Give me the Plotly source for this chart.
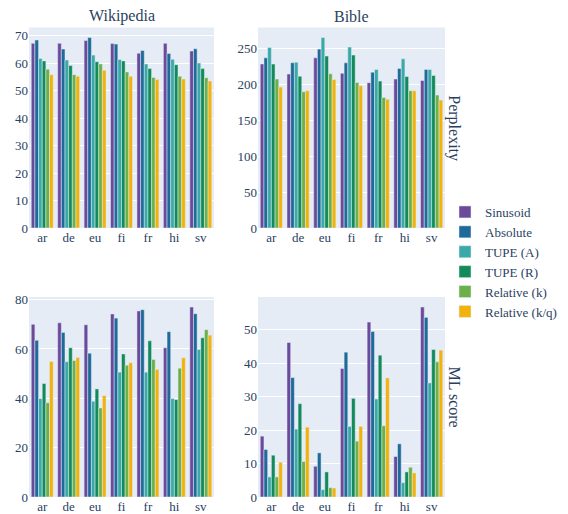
import plotly.graph_objects as go

languages = ["ar", "de", "eu", "fi", "fr", "hi", "sv"]
series_names = ["Sinusoid", "Absolute", "TUPE (A)", "TUPE (R)", "Relative (k)", "Relative (k/q)"]
colors = ["#6b4a9b", "#1f6a98", "#3ba9a8", "#128a5a", "#6cb04a", "#f1b20c"]

# Wikipedia perplexity
wiki_ppl_sinusoid = [67.2, 67.2, 68.2, 67.1, 63.6, 67.2, 64.4]
wiki_ppl_absolute = [68.4, 65.1, 69.3, 66.9, 64.6, 63.5, 65.2]
wiki_ppl_tupe_a = [61.7, 61.1, 62.9, 61.3, 59.7, 61.4, 60.0]
wiki_ppl_tupe_r = [60.8, 59.1, 60.5, 60.8, 58.0, 59.4, 58.0]
wiki_ppl_rel_k = [57.8, 55.8, 59.7, 56.8, 54.8, 55.2, 54.7]
wiki_ppl_rel_kq = [55.8, 55.2, 57.4, 55.2, 54.0, 54.2, 53.5]

# Bible perplexity
bible_ppl_sinusoid = [228, 214, 236.5, 215, 202, 207, 205]
bible_ppl_absolute = [236.5, 229.6, 248.6, 229.5, 216.6, 221.7, 220.3]
bible_ppl_tupe_a = [250.8, 230.5, 264.7, 251.4, 220.3, 235.1, 220.3]
bible_ppl_tupe_r = [227.8, 211, 238.9, 240.3, 204.2, 210.6, 211.9]
bible_ppl_rel_k = [207, 189.3, 214.3, 202.2, 181.4, 190.7, 184.7]
bible_ppl_rel_kq = [195.8, 190.7, 206.4, 197.6, 179, 190.7, 177.8]

# Wikipedia ML score
wiki_ml_sinusoid = [70.0, 70.6, 69.8, 74.2, 75.4, 60.5, 77.0]
wiki_ml_absolute = [63.5, 66.7, 58.3, 72.5, 75.9, 67.0, 74.3]
wiki_ml_tupe_a = [39.9, 54.8, 38.8, 50.6, 50.6, 39.9, 59.8]
wiki_ml_tupe_r = [46.0, 60.5, 43.8, 58.0, 63.3, 39.5, 64.5]
wiki_ml_rel_k = [38.2, 55.3, 36.1, 53.4, 55.7, 52.2, 67.8]
wiki_ml_rel_kq = [54.9, 56.5, 41.1, 54.4, 51.7, 56.4, 65.6]

# Bible ML score
bible_ml_sinusoid = [18.2, 46.2, 9.2, 38.4, 52.3, 12.1, 56.8]
bible_ml_absolute = [14.2, 35.7, 13.2, 43.3, 49.5, 15.9, 53.7]
bible_ml_tupe_a = [6.0, 20.3, 2.2, 21.1, 29.3, 4.3, 34.1]
bible_ml_tupe_r = [12.5, 27.9, 7.5, 29.5, 42.4, 7.5, 44.1]
bible_ml_rel_k = [6.0, 10.6, 2.8, 16.7, 21.3, 8.9, 40.4]
bible_ml_rel_kq = [10.4, 20.9, 2.7, 21.1, 35.6, 7.2, 43.9]

panels = [
    ("x", "y", [wiki_ppl_sinusoid, wiki_ppl_absolute, wiki_ppl_tupe_a, wiki_ppl_tupe_r, wiki_ppl_rel_k, wiki_ppl_rel_kq]),
    ("x2", "y2", [bible_ppl_sinusoid, bible_ppl_absolute, bible_ppl_tupe_a, bible_ppl_tupe_r, bible_ppl_rel_k, bible_ppl_rel_kq]),
    ("x3", "y3", [wiki_ml_sinusoid, wiki_ml_absolute, wiki_ml_tupe_a, wiki_ml_tupe_r, wiki_ml_rel_k, wiki_ml_rel_kq]),
    ("x4", "y4", [bible_ml_sinusoid, bible_ml_absolute, bible_ml_tupe_a, bible_ml_tupe_r, bible_ml_rel_k, bible_ml_rel_kq]),
]

fig = go.Figure()
for p, (xa, ya, data) in enumerate(panels):
    for i, name in enumerate(series_names):
        fig.add_trace(go.Bar(
            x=languages, y=data[i], name=name, xaxis=xa, yaxis=ya,
            marker=dict(color=colors[i], line=dict(color="#E5ECF6", width=0.5)),
            legendgroup=name, showlegend=(p == 0),
        ))

# figure is drawn with an 8px page margin; work in figure pixel coordinates
W, H = 560, 506
def px(v): return v / W
def py(v): return 1 - v / H

font_family = "Liberation Serif"
fcolor = "#2a3f5f"

xdom_l = [px(21), px(206)]
xdom_r = [px(250), px(437)]
ydom_t = [py(220), py(19.5)]
ydom_b = [py(489), py(289)]

def xax(dom, anchor):
    return dict(domain=dom, anchor=anchor, automargin=False, showgrid=False, zeroline=False,
                tickfont=dict(family=font_family, size=13, color=fcolor))

def yax(dom, anchor, dtick):
    return dict(domain=dom, anchor=anchor, automargin=False, gridcolor="white", zeroline=False,
                rangemode="tozero", dtick=dtick,
                tickfont=dict(family=font_family, size=13, color=fcolor))

ann_font = dict(size=16, family=font_family, color=fcolor)

fig.update_layout(
    width=W, height=H,
    margin=dict(l=0, r=0, t=0, b=0, autoexpand=False),
    template="plotly",
    plot_bgcolor="#E5ECF6",
    paper_bgcolor="white",
    barmode="group",
    bargap=0.17,
    bargroupgap=0,
    font=dict(family=font_family, color=fcolor),
    xaxis=xax(xdom_l, "y"),
    yaxis=yax(ydom_t, "x", 10),
    xaxis2=xax(xdom_r, "y2"),
    yaxis2=yax(ydom_t, "x2", 50),
    xaxis3=xax(xdom_l, "y3"),
    yaxis3=yax(ydom_b, "x3", 20),
    xaxis4=xax(xdom_r, "y4"),
    yaxis4=yax(ydom_b, "x4", 10),
    legend=dict(x=px(437), y=py(189), xanchor="left", yanchor="top",
                font=dict(family=font_family, size=13, color=fcolor),
                tracegroupgap=0, itemwidth=30),
    annotations=[
        dict(text="Wikipedia", x=(xdom_l[0] + xdom_l[1]) / 2, y=py(8), xref="paper", yref="paper",
             xanchor="center", yanchor="middle", showarrow=False, font=ann_font),
        dict(text="Bible", x=(xdom_r[0] + xdom_r[1]) / 2, y=py(8), xref="paper", yref="paper",
             xanchor="center", yanchor="middle", showarrow=False, font=ann_font),
        dict(text="Perplexity", x=px(446.5), y=(ydom_t[0] + ydom_t[1]) / 2, xref="paper", yref="paper",
             xanchor="center", yanchor="middle", showarrow=False, textangle=90, font=ann_font),
        dict(text="ML score", x=px(446.5), y=(ydom_b[0] + ydom_b[1]) / 2, xref="paper", yref="paper",
             xanchor="center", yanchor="middle", showarrow=False, textangle=90, font=ann_font),
    ],
)

fig.write_html("out.html")
